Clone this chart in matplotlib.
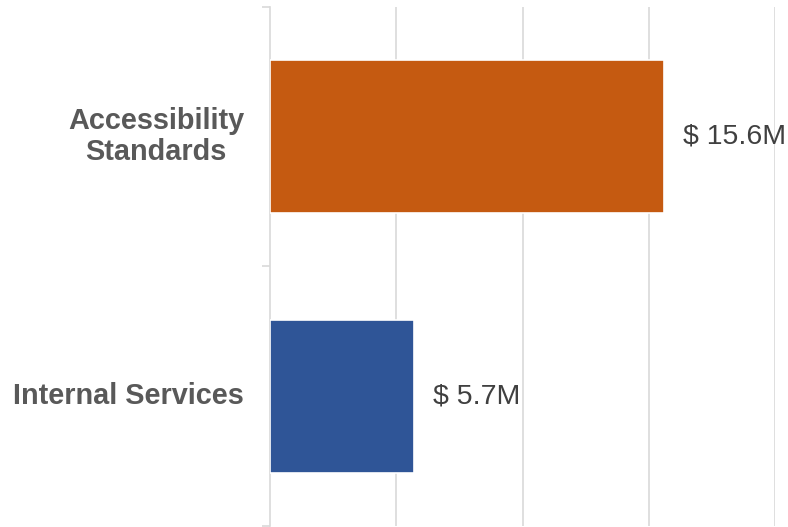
import matplotlib
matplotlib.use("Agg")
from matplotlib import pyplot as plt
from matplotlib import rcParams

rcParams["font.family"] = ["Liberation Sans", "DejaVu Sans"]

# data
categories = ["Internal Services", "Accessibility\nStandards"]
values = [5.7, 15.6]
labels = ["$ 5.7M", "$ 15.6M"]
colors = ["#2F5597", "#C55A11"]

fig = plt.figure(figsize=(7.88, 5.27), dpi=100)
ax = fig.add_axes([0.3426, 0.002, 0.641, 0.9847])

ax.barh(range(len(values)), values, height=0.59, color=colors,
        edgecolor="white", linewidth=1.2, zorder=3)

for i, (v, lab) in enumerate(zip(values, labels)):
    ax.text(v + 0.75, i, lab, va="center", ha="left", fontsize=20.5, color="#404040")

ax.set_xlim(0, 20)
ax.set_ylim(-0.5, 1.5)
ax.set_xticks([5, 10, 15, 20])
ax.set_xticklabels([])
ax.tick_params(axis="x", length=0)
ax.grid(axis="x", color="#d9d9d9", linewidth=1.2, zorder=0)

# category boundary ticks on the left spine
ax.set_yticks([-0.5, 0.5, 1.5])
ax.set_yticklabels([])
ax.tick_params(axis="y", length=6, color="#d9d9d9", width=1.2, direction="out")
for i, c in enumerate(categories):
    ax.text(-0.051, i, c, transform=ax.get_yaxis_transform(), ha="right",
            va="center", fontsize=20.8, fontweight="bold", color="#595959",
            multialignment="center", linespacing=1.15)

for s in ["top", "right", "bottom"]:
    ax.spines[s].set_visible(False)
ax.spines["left"].set_color("#d9d9d9")
ax.spines["left"].set_linewidth(1.2)

fig.savefig("out.png", dpi=100)
